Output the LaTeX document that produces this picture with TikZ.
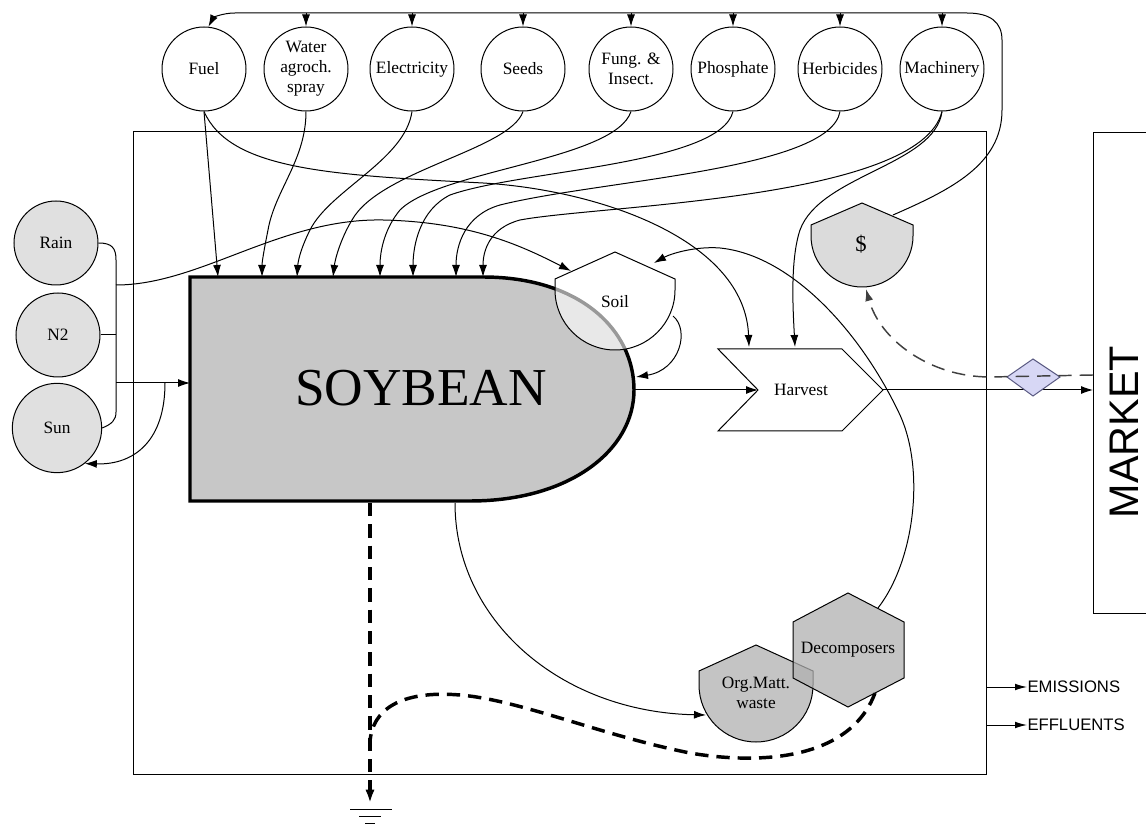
\documentclass[tikz,border=0pt]{standalone}
\usepackage{fontspec}
\setmainfont{Liberation Serif}
\newfontfamily\arialf{Liberation Sans}
\usetikzlibrary{arrows.meta}
\definecolor{soygray}{gray}{0.78}
\definecolor{envgray}{gray}{0.88}
\definecolor{dolgray}{gray}{0.86}
\definecolor{decgray}{gray}{0.69}
\definecolor{diafill}{RGB}{215,215,245}
\definecolor{diadraw}{RGB}{90,90,130}
\begin{document}
\begin{tikzpicture}[x=0.75pt,y=-0.75pt,line width=0.75pt,
  lbl/.style={font=\fontsize{13}{15}\selectfont,align=center,inner sep=0pt},
  src/.style={circle,draw,minimum size=63pt,inner sep=0pt,align=center,font=\fontsize{13}{15}\selectfont,fill=white},
  env/.style={src,fill=envgray},
  flow/.style={-{Latex[length=9pt,width=6pt]}},
  heavy/.style={line width=2.6pt,dash pattern=on 10pt off 6pt},
  money/.style={line width=1.1pt,dash pattern=on 10pt off 6pt,-{Latex[length=9pt,width=6pt]}}]
\useasboundingbox (0,0) rectangle (1146,830);

% system boundary
\draw (133,132) rectangle (986,774);

% market
\draw (1146,133) -- (1093,133) -- (1093,613) -- (1146,613);
\node[rotate=90,font=\arialf\fontsize{31}{32}\selectfont,inner sep=0pt] (market) at (1124,432) {MARKET};

% input sources
\node[src] (fuel) at (204,69) {Fuel};
\node[src] (water) at (306,69) {Water\\agroch.\\spray};
\node[src] (elec) at (412,69) {Electricity};
\node[src] (seeds) at (523,69) {Seeds};
\node[src] (fung) at (631,69) {Fung. \&\\Insect.};
\node[src] (phos) at (733,69) {Phosphate};
\node[src] (herb) at (840,69) {Herbicides};
\node[src] (mach) at (942,69) {Machinery};

% environmental sources
\node[env] (rain) at (56,243) {Rain};
\node[env] (n2) at (58,335) {N2};
\node[env,minimum size=67pt] (sun) at (57,428) {Sun};

% anchor coordinates
\coordinate (top) at (0,13);
\coordinate (dolNE) at (893,215);
\coordinate (dolS) at (866,289);
\coordinate (soilNW) at (571,271);
\coordinate (soilNE) at (654,263);
\coordinate (soilE) at (673,316);
\coordinate (soyE) at (634,390);
\coordinate (soyEin) at (636,377);
\coordinate (soyW) at (190,383);
\coordinate (soyB1) at (455,503);
\coordinate (soyB2) at (370,503);
\coordinate (harvW) at (758,390);
\coordinate (harvE) at (883,390);
\coordinate (harvN1) at (749,347);
\coordinate (harvN2) at (795,347);
\coordinate (mktW) at (1093,390);
\coordinate (mktW2) at (1093,375);
\coordinate (orgW) at (706,715);
\coordinate (decNE) at (878,608);
\coordinate (decSE) at (875,693);
\coordinate (br1) at (116,285);
\coordinate (br2) at (116,383);
\coordinate (sunfb) at (165,383);
\coordinate (sink) at (370,803);
\coordinate (emi) at (1027,687);
\coordinate (eff) at (1027,725);
\coordinate (bxE1) at (986,687);
\coordinate (bxE2) at (986,725);

% money distribution line
\draw[flow] (dolNE) .. controls (950,190) and (1002,165) .. (1002,110) -- (1002,40)
  .. controls (1002,22) and (990,13) .. (967,13) -- (235,13)
  .. controls (222,13) and (213,18) .. (fuel.84);
\foreach \n in {water,elec,seeds,fung,phos,herb,mach}
  \draw[flow] (\n.north |- top) -- (\n.north);

% inputs into soybean
\draw[flow] (fuel.south) -- (218,277);
\draw[flow] (water.south) .. controls (306,160) and (275,190) .. (268,230) .. controls (264,250) and (262,262) .. (262,277);
\draw[flow] (elec.south) .. controls (405,160) and (330,190) .. (310,230) .. controls (300,250) and (298,262) .. (297,277);
\draw[flow] (seeds.south) .. controls (510,150) and (380,170) .. (352,220) .. controls (340,240) and (335,260) .. (333,277);
\draw[flow] (fung.south) .. controls (615,160) and (440,170) .. (400,210) .. controls (385,228) and (380,250) .. (380,277);
\draw[flow] (phos.south) .. controls (720,165) and (520,170) .. (450,195) .. controls (420,210) and (413,245) .. (413,277);
\draw[flow] (herb.south) .. controls (830,170) and (600,180) .. (500,205) .. controls (465,215) and (456,245) .. (456,277);
\draw[flow] (mach.south) .. controls (920,200) and (600,205) .. (520,220) .. controls (490,228) and (483,250) .. (483,277);
% fuel and machinery to harvest
\draw[flow] (fuel.south) .. controls (230,170) and (330,175) .. (483,183) .. controls (600,190) and (745,240) .. (harvN1);
\draw[flow] (mach.south) .. controls (935,165) and (820,175) .. (800,230) .. controls (790,260) and (793,310) .. (harvN2);

% environmental bracket
\draw (rain.east) .. controls (112,243) and (116,248) .. (116,260) -- (116,412) .. controls (116,420) and (112,424) .. (sun.east);
\draw (n2.east) -- (116,335);
\draw[flow] (br2) -- (soyW);
\draw[flow] (br1) .. controls (200,285) and (280,218) .. (383,220) .. controls (470,222) and (520,245) .. (soilNW);
\draw[flow] (sunfb) .. controls (165,440) and (135,465) .. (sun.-52);

% decomposers to soil
\draw[flow] (decNE) .. controls (915,560) and (925,470) .. (900,415) .. controls (860,330) and (790,255) .. (720,248) .. controls (695,246) and (670,254) .. (soilNE);

% soybean to org matter
\draw[flow] (soyB1) .. controls (455,620) and (560,712) .. (orgW);

% heat sink
\draw[heavy] (decSE) .. controls (850,760) and (760,765) .. (690,753) .. controls (600,735) and (520,700) .. (460,695) .. controls (400,690) and (372,710) .. (370,742);
\draw[heavy,-{Latex[length=10pt,width=7pt]}] (soyB2) -- (sink);
\draw (350,809) -- (392,809) (359,816) -- (381,816) (365,823) -- (375,823);

% soybean
\draw[line width=2.6pt,fill=soygray] (190,277) -- (483,277) .. controls (580,277) and (634,330) .. (634,390)
  .. controls (634,450) and (570,501) .. (470,501) -- (190,501) -- cycle;
\node[inner sep=0pt,font=\fontsize{40}{40}\selectfont] (soy) at (421,388) {SOYBEAN};

% soil
\draw[fill=white,fill opacity=0.6] (555,279) -- (615,252) -- (675,279) -- (675,290)
  .. controls (675,323) and (648,350) .. (615,350) .. controls (582,350) and (555,323) .. (555,290) -- cycle;
\node[lbl] (soil) at (615,302) {Soil};
\draw[flow] (soilE) .. controls (690,330) and (680,370) .. (soyEin);

% harvest
\draw[fill=white] (718,349) -- (842,349) -- (883,390) -- (842,431) -- (718,431) -- (758,390) -- cycle;
\node[lbl] (harv) at (801,390) {Harvest};
\draw[flow] (soyE) -- (harvW);
\draw[flow] (harvE) -- (mktW);

% money
\draw[fill=dolgray] (811,225) -- (862,203) -- (913,225) -- (913,236)
  .. controls (913,264) and (890,287) .. (862,287) .. controls (834,287) and (811,264) .. (811,236) -- cycle;
\node[inner sep=0pt,font=\fontsize{17}{17}\selectfont] (dol) at (861,244) {\$};
\draw[fill=diafill,draw=diadraw] (1007,377) -- (1033,359) -- (1060,377) -- (1033,396) -- cycle;
\coordinate (dia) at (1033,377);
\draw[money,draw=black!75] (mktW2) -- (990,377) .. controls (930,377) and (880,340) .. (dolS);

% org matter and decomposers
\draw[fill=decgray,fill opacity=0.75] (699,671) -- (756,645) -- (813,671) -- (813,685)
  .. controls (813,716.5) and (787.5,742) .. (756,742) .. controls (724.5,742) and (699,716.5) .. (699,685) -- cycle;
\draw[fill=decgray,fill opacity=0.75] (848,593) -- (904,622) -- (904,678) -- (848,707) -- (793,678) -- (793,622) -- cycle;
\node[lbl] (org) at (756,693) {Org.Matt.\\waste};
\node[lbl] (dec) at (848,650) {Decomposers};

% outputs
\draw[-{Latex[length=9pt,width=5pt]}] (bxE1) -- (emi);
\draw[-{Latex[length=9pt,width=5pt]}] (bxE2) -- (eff);
\node[anchor=west,inner sep=0pt,font=\arialf\fontsize{12.5}{13}\selectfont] (emit) at (emi) {EMISSIONS};
\node[anchor=west,inner sep=0pt,font=\arialf\fontsize{12.5}{13}\selectfont] (efft) at (eff) {EFFLUENTS};
\end{tikzpicture}
\end{document}
